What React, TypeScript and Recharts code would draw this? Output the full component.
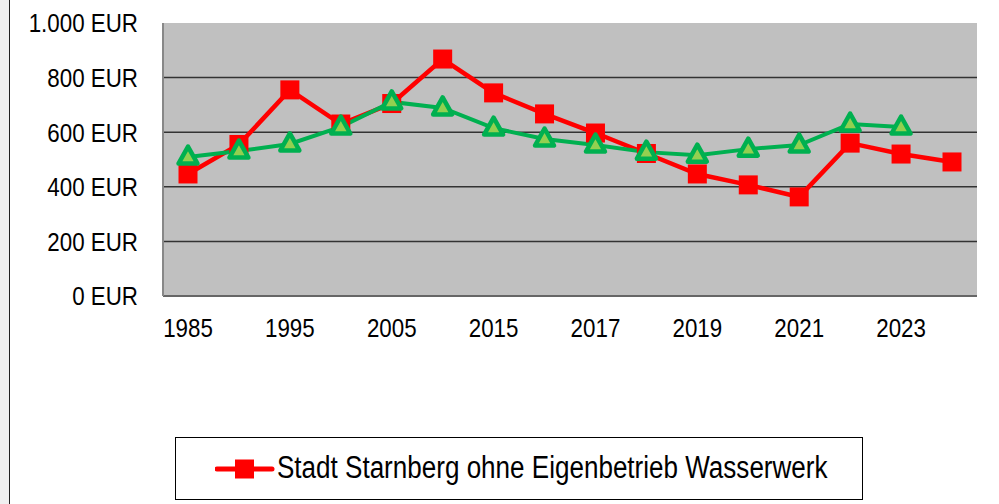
import { LineChart, Line, XAxis, YAxis, CartesianGrid } from 'recharts'

const YEARS = ['1985', '1990', '1995', '2000', '2005', '2010', '2015', '2016', '2017', '2018', '2019', '2020', '2021', '2022', '2023', '2024']
const STADT = [447, 555, 755, 630, 705, 868, 744, 667, 597, 522, 447, 407, 363, 560, 520, 491]
const VERGLEICH: (number | null)[] = [509, 531, 557, 619, 711, 689, 615, 575, 553, 527, 516, 538, 553, 630, 619, null]
const Y_TICKS = [0, 200, 400, 600, 800, 1000]
const LEGEND_LABEL = 'Stadt Starnberg ohne Eigenbetrieb Wasserwerk'

// no narrow Arial here, so squeeze Liberation Sans horizontally
const FONT = '"Liberation Sans", Arial, sans-serif'
const SQUEEZE = 0.86

const data = YEARS.map((year, i) => ({ year, stadt: STADT[i], vergleich: VERGLEICH[i] }))

const fmtEur = (v: number) => `${v >= 1000 ? Math.floor(v / 1000) + '.' + String(v % 1000).padStart(3, '0') : v} EUR`

function YTick(props: any) {
  const { x, y, payload } = props
  return (
    <g transform={`translate(${x},${y})`}>
      <text transform={`scale(${SQUEEZE},1)`} textAnchor="end" dy="0.36em" fontSize={26} fontFamily={FONT} fill="#000">
        {fmtEur(payload.value)}
      </text>
    </g>
  )
}

function XTick(props: any) {
  const { x, y, payload } = props
  return (
    <g transform={`translate(${x},${y})`}>
      <text transform={`scale(${SQUEEZE},1)`} textAnchor="middle" dy="0.71em" fontSize={26} fontFamily={FONT} fill="#000">
        {payload.value}
      </text>
    </g>
  )
}

function SquareDot(props: any) {
  const { cx, cy, index } = props
  if (cx == null || cy == null || props.value == null) return <g key={`sq-${index}`} />
  return <rect key={`sq-${index}`} x={cx - 9.5} y={cy - 9.5} width={19} height={19} fill="#FF0000" />
}

function TriangleDot(props: any) {
  const { cx, cy, index } = props
  if (cx == null || cy == null || props.value == null) return <g key={`tri-${index}`} />
  return (
    <polygon
      key={`tri-${index}`}
      points={`${cx},${cy - 10.5} ${cx + 9.5},${cy + 6.5} ${cx - 9.5},${cy + 6.5}`}
      fill="#92D050"
      stroke="#00B050"
      strokeWidth={4.5}
      strokeLinejoin="round"
    />
  )
}

export default function App() {
  return (
    <div style={{ position: 'absolute', left: 0, top: 0, width: 999, height: 504, background: '#fff', overflow: 'hidden' }}>
      <div style={{ position: 'absolute', left: 0, top: 0, width: 9, height: 504, background: '#f0f0f0', borderRight: '1.5px solid #222' }} />
      <LineChart width={999} height={504} data={data} margin={{ top: 23, right: 22, bottom: 168, left: 0 }}>
        <CartesianGrid vertical={false} fill="#C0C0C0" fillOpacity={1} stroke="#333" strokeWidth={1.5} horizontalValues={[200, 400, 600, 800]} />
        <XAxis
          dataKey="year"
          interval={1}
          height={40}
          padding={{ left: 25, right: 25 }}
          tickLine={false}
          tickSize={0}
          tickMargin={23}
          axisLine={{ stroke: '#666', strokeWidth: 2 }}
          tick={XTick}
        />
        <XAxis xAxisId="top" dataKey="year" orientation="top" height={0} tick={false} tickLine={false} axisLine={{ stroke: '#888', strokeWidth: 2.5 }} />
        <YAxis
          width={163}
          domain={[0, 1000]}
          ticks={Y_TICKS}
          tickLine={false}
          tickSize={0}
          tickMargin={25}
          axisLine={{ stroke: '#888', strokeWidth: 2 }}
          tick={YTick}
        />
        <YAxis yAxisId="right" orientation="right" width={0} domain={[0, 1000]} tick={false} tickLine={false} axisLine={{ stroke: '#888', strokeWidth: 3 }} />
        <Line dataKey="stadt" stroke="#FF0000" strokeWidth={4.5} dot={SquareDot} activeDot={false} isAnimationActive={false} />
        <Line dataKey="vergleich" stroke="#00B050" strokeWidth={4} dot={TriangleDot} activeDot={false} isAnimationActive={false} />
      </LineChart>
      <div
        style={{
          position: 'absolute', left: 175, top: 437, width: 688, height: 63, boxSizing: 'border-box',
          border: '1.5px solid #000', background: '#fff',
        }}
      >
        <svg width={60} height={30} style={{ position: 'absolute', left: 39, top: 16 }}>
          <line x1={2} y1={15} x2={57} y2={15} stroke="#FF0000" strokeWidth={5} strokeLinecap="round" />
          <rect x={20} y={5.5} width={19} height={19} fill="#FF0000" />
        </svg>
        <span
          style={{
            position: 'absolute', left: 101, top: 0, height: 60, lineHeight: '60px',
            fontSize: 31, fontFamily: FONT, color: '#000', whiteSpace: 'nowrap',
            transform: 'scaleX(0.84)', transformOrigin: 'left center',
          }}
        >
          {LEGEND_LABEL}
        </span>
      </div>
    </div>
  )
}
